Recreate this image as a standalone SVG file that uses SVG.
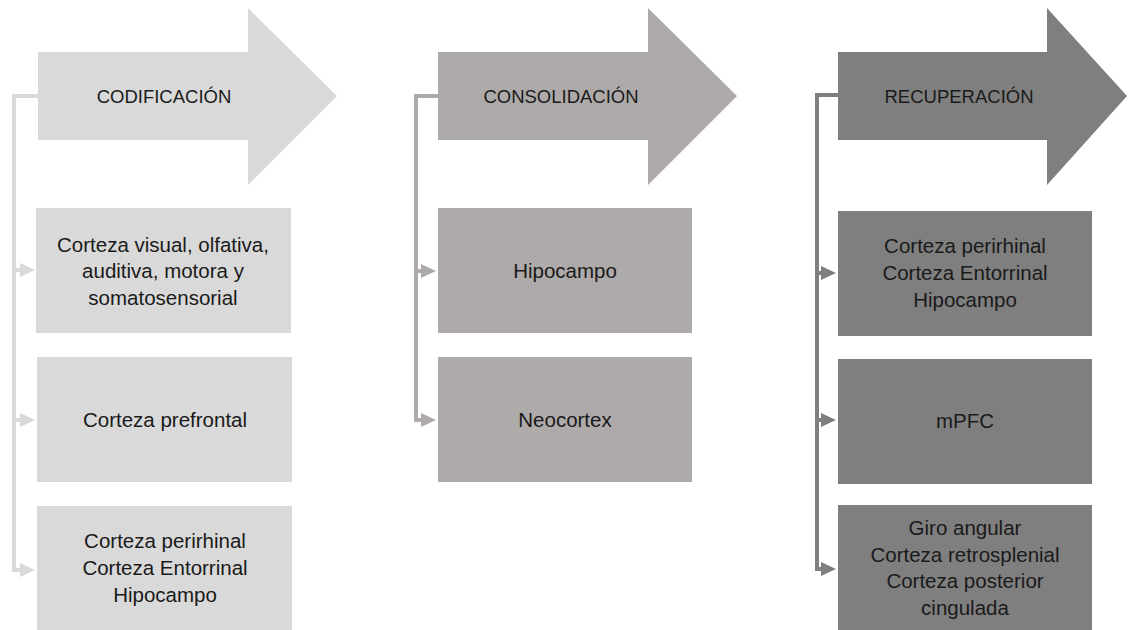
<svg xmlns="http://www.w3.org/2000/svg" width="1128" height="630" viewBox="0 0 1128 630">
<style>
.t{font-family:"Liberation Sans",Arial,sans-serif;font-size:20.5px;fill:#1a1a1a;text-anchor:middle}
.h{font-family:"Liberation Sans",Arial,sans-serif;font-size:18.5px;fill:#1a1a1a;text-anchor:middle}
.c1{fill:#d9d9d9}.c2{fill:#aeaaaa}.c3{fill:#7f7f7f}
.l{fill:none;stroke-width:4}
.l1{stroke:#d9d9d9}.l2{stroke:#aeaaaa}.l3{stroke:#7f7f7f}
</style>
<defs>
<marker id="a1" markerUnits="userSpaceOnUse" markerWidth="16" markerHeight="14" refX="2" refY="7" orient="auto"><path d="M0,0 L15,7 L0,14 z" fill="#d9d9d9"/></marker>
<marker id="a2" markerUnits="userSpaceOnUse" markerWidth="16" markerHeight="14" refX="2" refY="7" orient="auto"><path d="M0,0 L15,7 L0,14 z" fill="#aeaaaa"/></marker>
<marker id="a3" markerUnits="userSpaceOnUse" markerWidth="16" markerHeight="14" refX="2" refY="7" orient="auto"><path d="M0,0 L15,7 L0,14 z" fill="#7f7f7f"/></marker>
</defs>
<rect width="1128" height="630" fill="#fff"/>
<g id="connectors">
<path class="l l1" d="M40,96 H14 V570 H22" marker-end="url(#a1)"/>
<path class="l l1" d="M14,270 H22" marker-end="url(#a1)"/>
<path class="l l1" d="M14,420 H22" marker-end="url(#a1)"/>
<path class="l l2" d="M440,96 H416 V420 H423" marker-end="url(#a2)"/>
<path class="l l2" d="M416,271 H423" marker-end="url(#a2)"/>
<path class="l l3" d="M840,95 H817 V569 H823" marker-end="url(#a3)"/>
<path class="l l3" d="M817,273 H823" marker-end="url(#a3)"/>
<path class="l l3" d="M817,420 H823" marker-end="url(#a3)"/>
</g>
<g id="codificacion">
<polygon class="c1" points="38,52 248,52 248,8 337,96 248,185 248,140 38,140"/>
<text class="h" x="164" y="103">CODIFICACIÓN</text>
</g>
<g id="consolidacion">
<polygon class="c2" points="438,52 648,52 648,8 737,96 648,185 648,140 438,140"/>
<text class="h" x="561" y="103">CONSOLIDACIÓN</text>
</g>
<g id="recuperacion">
<polygon class="c3" points="838,52 1047,52 1047,8 1127,96 1047,185 1047,140 838,140"/>
<text class="h" x="959" y="103">RECUPERACIÓN</text>
</g>
<g id="cod-1">
<rect class="c1" x="36" y="208" width="255" height="125"/>
<text class="t" x="163" y="252">Corteza visual, olfativa,</text>
<text class="t" x="163" y="278">auditiva, motora y</text>
<text class="t" x="163" y="305">somatosensorial</text>
</g>
<g id="cod-2">
<rect class="c1" x="37" y="357" width="255" height="125"/>
<text class="t" x="165" y="427">Corteza prefrontal</text>
</g>
<g id="cod-3">
<rect class="c1" x="37" y="506" width="255" height="124"/>
<text class="t" x="165" y="548">Corteza perirhinal</text>
<text class="t" x="165" y="575">Corteza Entorrinal</text>
<text class="t" x="165" y="602">Hipocampo</text>
</g>
<g id="con-1">
<rect class="c2" x="438" y="208" width="254" height="125"/>
<text class="t" x="565" y="278">Hipocampo</text>
</g>
<g id="con-2">
<rect class="c2" x="438" y="357" width="254" height="125"/>
<text class="t" x="565" y="427">Neocortex</text>
</g>
<g id="rec-1">
<rect class="c3" x="838" y="211" width="254" height="125"/>
<text class="t" x="965" y="253">Corteza perirhinal</text>
<text class="t" x="965" y="280">Corteza Entorrinal</text>
<text class="t" x="965" y="307">Hipocampo</text>
</g>
<g id="rec-2">
<rect class="c3" x="838" y="359" width="254" height="125"/>
<text class="t" x="965" y="428">mPFC</text>
</g>
<g id="rec-3">
<rect class="c3" x="838" y="505" width="254" height="125"/>
<text class="t" x="965" y="535">Giro angular</text>
<text class="t" x="965" y="562">Corteza retrosplenial</text>
<text class="t" x="965" y="588">Corteza posterior</text>
<text class="t" x="965" y="615">cingulada</text>
</g>
</svg>
